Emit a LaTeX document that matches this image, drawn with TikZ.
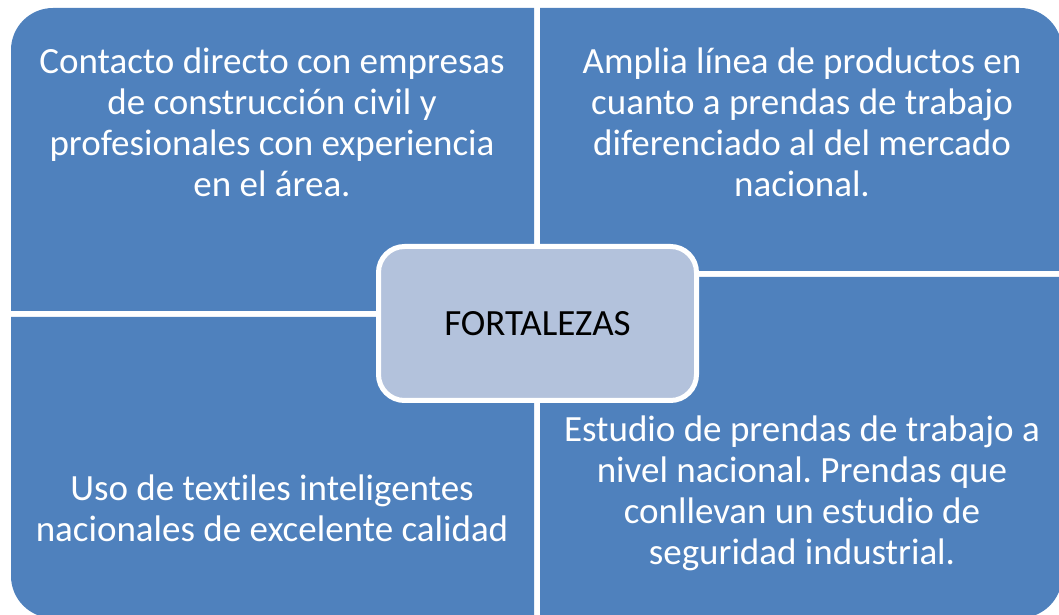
\documentclass[tikz,border=0pt]{standalone}
\usepackage{fontspec}
\setmainfont{Carlito}[RawFeature={-liga}]
\frenchspacing
\definecolor{quadblue}{HTML}{4F81BD}
\definecolor{centerblue}{HTML}{B3C2DC}
\begin{document}
\begin{tikzpicture}[x=1pt,y=1pt,
  quad/.style={fill=quadblue},
  qtext/.style={text=white,align=center,font=\fontsize{37pt}{41pt}\selectfont,inner sep=0pt},
  centerbox/.style={draw=white,line width=5pt,fill=centerblue,rounded corners=26pt,
    minimum width=318pt,minimum height=154pt,font=\fontsize{37pt}{41pt}\selectfont,text=black}]
\useasboundingbox (0,0) rectangle (1059,615);
\begin{scope}
\clip (0,0) rectangle (1059,615);
% top-left
\fill[quad] (534,304) -- (11,304) -- (11,565) arc[start angle=180,end angle=90,radius=42pt] -- (534,607) -- cycle;
% top-right
\fill[quad] (540,344) -- (540,607) -- (1020,607) arc[start angle=90,end angle=0,radius=42pt] -- (1062,344) -- cycle;
% bottom-left
\fill[quad] (534,298) -- (11,298) -- (11,39) arc[start angle=180,end angle=270,radius=42pt] -- (534,-3) -- cycle;
% bottom-right
\fill[quad] (540,338) -- (1062,338) -- (1062,39) arc[start angle=0,end angle=-90,radius=42pt] -- (540,-3) -- cycle;
\end{scope}
\node[qtext] (tl) at (272,492.5) {Contacto directo con empresas\\de construcción civil y\\profesionales con experiencia\\en el área.};
\node[qtext] (tr) at (802,493) {Amplia línea de productos en\\cuanto a prendas de trabajo\\diferenciado al del mercado\\nacional.};
\node[qtext] (bl) at (272,106.5) {Uso de textiles inteligentes\\nacionales de excelente calidad};
\node[qtext] (br) at (802,122) {Estudio de prendas de trabajo a\\nivel nacional. Prendas que\\conllevan un estudio de\\seguridad industrial.};
\node[centerbox] (center) at (537.5,291.5) {FORTALEZAS};
\end{tikzpicture}
\end{document}
